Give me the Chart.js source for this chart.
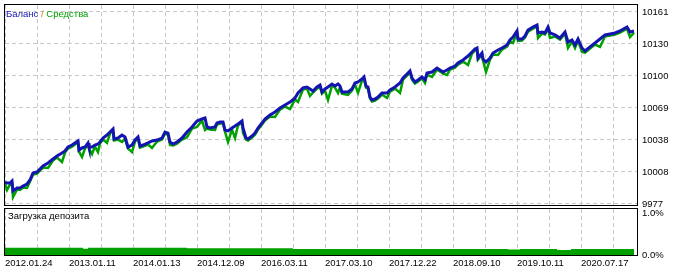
<!DOCTYPE html>
<html>
<head>
<meta charset="utf-8">
<script src="https://cdn.jsdelivr.net/npm/chart.js@4"></script>
<style>
    body { margin: 0; background: #fff; }
    #wrap { position: relative; width: 682px; height: 272px; font-family: "Liberation Sans", Arial, sans-serif; }
    canvas { position: absolute; left: 0; }
    #mainChart { top: 0; }
    #loadChart { top: 206px; }
    .lbl { position: absolute; font-size: 9.5px; line-height: 10px; white-space: nowrap; }
</style>
</head>
<body>
<div id="wrap">
    <canvas id="mainChart" width="682" height="212" style="width:682px;height:212px"></canvas>
    <canvas id="loadChart" width="682" height="66" style="width:682px;height:66px"></canvas>
    <div class="lbl" style="left:6px;top:9px"><span style="color:#1414b0">Баланс</span> <span style="color:#d08000">/</span> <span style="color:#00a000">Средства</span></div>
    <div class="lbl" style="left:8px;top:211px;color:#000">Загрузка депозита</div>
</div>
<script>
// trade number -> balance / equity
const trades = [2, 6, 12, 16, 18, 26, 32, 38, 46, 52, 58, 66, 72, 78, 88, 98, 106, 116, 122, 128,
    136, 142, 148, 150, 156, 162, 168, 170, 176, 182, 188, 192, 198, 206, 212, 218, 220, 228, 236, 242,
    248, 256, 262, 268, 272, 278, 288, 296, 306, 316, 322, 328, 332, 338, 346, 356, 366, 376, 386, 396,
    402, 406, 412, 422, 426, 432, 438, 442, 448, 456, 462, 468, 476, 478, 484, 488, 496, 502, 508, 516,
    522, 532, 542, 552, 562, 572, 582, 588, 598, 606, 612, 618, 626, 632, 636, 642, 648, 656, 662, 668,
    672, 676, 688, 696, 702, 708, 716, 720, 724, 728, 732, 736, 742, 748, 756, 766, 772, 782, 792, 798,
    806, 812, 816, 822, 828, 836, 842, 846, 856, 866, 872, 878, 886, 892, 902, 908, 918, 928, 936, 942,
    946, 948, 956, 958, 964, 972, 978, 988, 996, 1006, 1012, 1018, 1026, 1028, 1036, 1042, 1048, 1058, 1066, 1068,
    1076, 1082, 1088, 1092, 1102, 1112, 1122, 1128, 1136, 1142, 1148, 1156, 1162, 1172, 1182, 1192, 1202, 1212, 1222, 1232,
    1246, 1252, 1260];

const balance = [9998.1, 9997.1, 9997.1, 9999.0, 9989.5, 9992.3, 9992.3, 9994.2, 9996.2, 10000.0, 10006.7, 10007.7, 10010.5, 10013.4, 10016.3, 10020.1, 10023.0, 10025.9, 10027.8, 10031.6,
    10033.5, 10035.5, 10037.4, 10028.7, 10030.7, 10031.6, 10035.5, 10031.6, 10031.6, 10033.5, 10034.5, 10036.4, 10040.2, 10043.1, 10046.0, 10048.9, 10039.3, 10040.2, 10043.1, 10041.2,
    10031.6, 10033.5, 10038.3, 10041.2, 10032.6, 10033.5, 10035.5, 10037.4, 10038.3, 10040.2, 10046.0, 10045.0, 10036.4, 10034.5, 10036.4, 10040.2, 10046.0, 10050.8, 10056.5, 10058.5,
    10059.4, 10050.8, 10049.8, 10050.8, 10054.6, 10055.6, 10055.6, 10047.9, 10047.0, 10049.8, 10051.7, 10053.7, 10056.5, 10049.8, 10040.2, 10039.3, 10042.2, 10045.0, 10049.8, 10054.6,
    10058.5, 10062.3, 10065.2, 10069.0, 10071.9, 10074.7, 10078.6, 10083.4, 10088.2, 10089.1, 10087.2, 10085.3, 10089.1, 10091.0, 10084.3, 10087.2, 10089.1, 10092.0, 10090.1, 10092.0,
    10090.1, 10084.3, 10084.3, 10087.2, 10093.0, 10093.9, 10096.8, 10098.7, 10090.1, 10089.1, 10079.5, 10076.7, 10077.6, 10079.5, 10083.4, 10083.4, 10086.2, 10089.1, 10093.0, 10097.7,
    10101.6, 10104.5, 10097.7, 10093.9, 10095.8, 10098.7, 10096.0, 10102.5, 10103.5, 10107.3, 10105.4, 10103.5, 10105.4, 10107.3, 10109.2, 10112.1, 10115.0, 10118.8, 10122.7, 10125.5,
    10126.5, 10116.9, 10121.7, 10116.0, 10113.1, 10116.9, 10121.7, 10124.6, 10126.5, 10129.4, 10134.2, 10137.0, 10142.8, 10135.1, 10135.1, 10138.0, 10143.7, 10146.6, 10148.5, 10140.9,
    10141.8, 10140.9, 10146.6, 10140.9, 10139.0, 10136.1, 10141.8, 10132.2, 10134.2, 10129.4, 10135.1, 10126.5, 10123.6, 10127.5, 10131.3, 10135.1, 10139.0, 10139.9, 10140.9, 10142.8,
    10146.6, 10141.8, 10142.8];

const equity = [9996.6, 9990.4, 9995.6, 9997.5, 9983.7, 9990.8, 9990.4, 9992.7, 9992.3, 9998.5, 10005.2, 10006.2, 10009.0, 10011.9, 10011.5, 10018.6, 10021.5, 10017.2, 10026.3, 10030.1,
    10032.0, 10034.0, 10035.9, 10027.2, 10022.0, 10030.1, 10034.0, 10030.1, 10024.9, 10032.0, 10026.8, 10034.9, 10038.7, 10035.5, 10044.5, 10047.4, 10037.8, 10038.7, 10036.4, 10039.7,
    10030.1, 10026.8, 10036.8, 10039.7, 10031.1, 10032.0, 10034.0, 10030.7, 10036.8, 10038.7, 10044.5, 10043.5, 10033.5, 10033.0, 10034.9, 10038.7, 10041.0, 10049.3, 10050.8, 10057.0,
    10047.9, 10049.3, 10048.3, 10047.9, 10053.1, 10054.1, 10054.1, 10046.4, 10036.4, 10048.3, 10040.2, 10052.2, 10055.0, 10045.0, 10038.7, 10037.8, 10040.7, 10043.5, 10048.3, 10053.1,
    10057.0, 10060.8, 10060.4, 10067.5, 10070.4, 10068.0, 10077.1, 10074.7, 10086.7, 10087.6, 10080.5, 10083.8, 10087.6, 10089.5, 10082.8, 10085.7, 10076.7, 10090.5, 10088.6, 10083.4,
    10088.6, 10082.8, 10081.5, 10085.7, 10091.5, 10083.4, 10095.3, 10097.2, 10088.6, 10087.6, 10078.0, 10075.2, 10076.1, 10078.0, 10081.9, 10078.6, 10084.7, 10087.6, 10083.4, 10096.2,
    10100.1, 10103.0, 10096.2, 10092.4, 10094.3, 10097.2, 10093.0, 10101.0, 10098.7, 10105.8, 10103.9, 10102.0, 10100.6, 10105.8, 10107.7, 10110.6, 10113.5, 10110.2, 10121.2, 10124.0,
    10125.0, 10115.4, 10120.2, 10114.5, 10103.5, 10115.4, 10120.2, 10119.8, 10125.0, 10127.9, 10132.7, 10131.3, 10141.3, 10133.2, 10133.6, 10136.5, 10142.2, 10145.1, 10147.0, 10136.0,
    10140.3, 10139.4, 10145.1, 10136.1, 10137.5, 10134.6, 10140.3, 10126.5, 10132.7, 10126.5, 10133.6, 10122.7, 10122.1, 10126.0, 10129.8, 10127.5, 10137.5, 10138.4, 10139.4, 10141.3,
    10145.1, 10137.0, 10141.3];

// deposit load, %
const loadTrades = [2, 158, 168, 366, 578, 1008, 1032, 1106, 1134, 1260];
const loadValues = [0.17, 0.15, 0.17, 0.16, 0.14, 0.13, 0.14, 0.12, 0.14, 0.14];

const dateLabels = ['2012.01.24', '2013.01.11', '2014.01.13', '2014.12.09', '2016.03.11',
    '2017.03.10', '2017.12.22', '2018.09.10', '2019.10.11', '2020.07.17'];
const yTickValues = [9977, 10007.67, 10038.33, 10069, 10099.67, 10130.33, 10161];
const yTickLabels = ['9977', '10008', '10038', '10069', '10100', '10130', '10161'];

const X_MIN = 2, X_MAX = 1266, X_STEP = 64;
const xTicks = [];
for (let t = X_MIN; t <= 1218; t += X_STEP) xTicks.push(t);

const GRID = '#c8c8c8';
const AXIS_FONT = { family: '"Liberation Sans", Arial, sans-serif', size: 9.5 };

// black frame round each pane
const framePlugin = {
    id: 'frame',
    afterDraw(chart) {
        const a = chart.chartArea;
        const c = chart.ctx;
        c.save();
        c.strokeStyle = '#000';
        c.lineWidth = 1;
        c.strokeRect(a.left - 0.5, a.top - 0.5, a.right - a.left + 1, a.bottom - a.top + 1);
        c.restore();
    }
};

function xy(xs, ys) {
    return xs.map((x, i) => ({ x: x, y: ys[i] }));
}

// keep the axes from reserving room for half a label at either end
function fitRight(s) {
    s.width = 45;
    s.paddingTop = 0;
    s.paddingBottom = 0;
}

function fitBottom(h) {
    return s => {
        s.height = h;
        s.paddingLeft = 0;
        s.paddingRight = 0;
    };
}

new Chart(document.getElementById('mainChart'), {
    type: 'line',
    data: {
        datasets: [{
            label: 'Баланс',
            data: xy(trades, balance),
            borderColor: '#1414b0',
            borderWidth: 3,
            pointRadius: 0,
            tension: 0,
            order: 0
        }, {
            label: 'Средства',
            data: xy(trades, equity),
            borderColor: '#00a000',
            borderWidth: 2.5,
            pointRadius: 0,
            tension: 0,
            order: 1
        }]
    },
    options: {
        responsive: false,
        animation: false,
        events: [],
        // extra room at the bottom so the 9977 label is not cut off
        layout: { padding: { left: 5, top: 5, right: 0, bottom: 7 } },
        plugins: { legend: { display: false }, tooltip: { enabled: false } },
        scales: {
            x: {
                type: 'linear',
                min: X_MIN,
                max: X_MAX,
                afterBuildTicks: s => { s.ticks = xTicks.map(v => ({ value: v })); },
                afterFit: fitBottom(0),
                ticks: { display: false },
                grid: { color: GRID, drawTicks: false },
                border: { display: false, dash: [4, 3] }
            },
            y: {
                position: 'right',
                min: 9976.04,
                max: 10167.7,
                afterBuildTicks: s => { s.ticks = yTickValues.map(v => ({ value: v })); },
                afterFit: fitRight,
                ticks: {
                    color: '#000',
                    font: AXIS_FONT,
                    padding: 5,
                    callback: (v, i) => yTickLabels[i]
                },
                grid: { color: GRID, drawTicks: false },
                border: { display: false, dash: [4, 3] }
            }
        }
    },
    plugins: [framePlugin]
});

new Chart(document.getElementById('loadChart'), {
    type: 'line',
    data: {
        datasets: [{
            label: 'Загрузка депозита',
            data: xy(loadTrades, loadValues),
            stepped: true,
            borderWidth: 0,
            pointRadius: 0,
            backgroundColor: '#00a000',
            fill: 'origin'
        }]
    },
    options: {
        responsive: false,
        animation: false,
        events: [],
        layout: { padding: { left: 5, top: 3, right: 0, bottom: 0 } },
        plugins: { legend: { display: false }, tooltip: { enabled: false } },
        scales: {
            x: {
                type: 'linear',
                min: X_MIN,
                max: X_MAX,
                afterBuildTicks: s => { s.ticks = xTicks.map(v => ({ value: v })); },
                afterFit: fitBottom(17),
                ticks: {
                    color: '#000',
                    font: AXIS_FONT,
                    align: 'start',
                    autoSkip: false,
                    maxRotation: 0,
                    padding: 3,
                    callback: (v, i) => (i % 2 === 0 ? dateLabels[i / 2] : '')
                },
                grid: { color: GRID, drawTicks: false },
                border: { display: false, dash: [4, 3] }
            },
            y: {
                position: 'right',
                min: 0,
                max: 1.093,
                afterBuildTicks: s => { s.ticks = [{ value: 0 }, { value: 1 }]; },
                afterFit: fitRight,
                ticks: {
                    color: '#000',
                    font: AXIS_FONT,
                    padding: 5,
                    callback: v => v.toFixed(1) + '%'
                },
                grid: { drawOnChartArea: false, drawTicks: false },
                border: { display: false }
            }
        }
    },
    plugins: [framePlugin]
});
</script>
</body>
</html>
